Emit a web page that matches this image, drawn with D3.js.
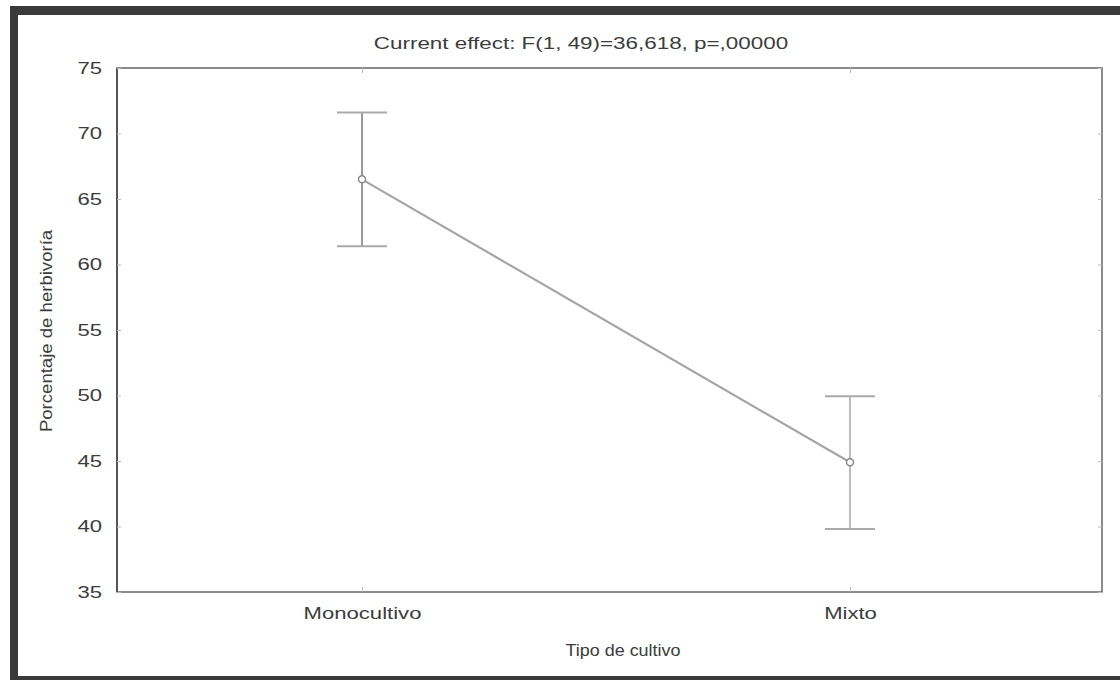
<!DOCTYPE html>
<html><head><meta charset="utf-8">
<script src="https://cdn.jsdelivr.net/npm/d3@7/dist/d3.min.js"></script>
<style>body{margin:0;background:#fff;}svg{display:block;}</style>
</head><body>
<svg id="c" width="1120" height="680"></svg>
<script>
const categories = ["Monocultivo", "Mixto"];
const means = [66.5, 44.9];
const upper = [71.6, 49.95];
const lower = [61.4, 39.8];
const yTicks = [35, 40, 45, 50, 55, 60, 65, 70, 75];
const titleText = "Current effect: F(1, 49)=36,618, p=,00000";
const xTitle = "Tipo de cultivo";
const yTitle = "Porcentaje de herbivoría";

const svg = d3.select("#c");
const font = "'Liberation Sans', Arial, sans-serif";
const m = {left:117, top:68, right:1102, bottom:592};

function stretch(sel, f){
  sel.each(function(){
    const w = this.getComputedTextLength();
    d3.select(this).attr("textLength", w*f).attr("lengthAdjust","spacingAndGlyphs");
  });
}

// outer dark frame
svg.append("rect").attr("x",10).attr("y",6).attr("width",1110).attr("height",9).attr("fill","#3a3a3a");
svg.append("rect").attr("x",10).attr("y",6).attr("width",8).attr("height",674).attr("fill","#3a3a3a");
svg.append("rect").attr("x",10).attr("y",676).attr("width",1110).attr("height",4).attr("fill","#3a3a3a");

const x = d3.scalePoint().domain(categories).range([m.left+1, m.right-8]).padding(0.5);
const y = d3.scaleLinear().domain([35, 75]).range([m.bottom, m.top]);

// plot frame
svg.append("rect").attr("x",m.left).attr("y",m.top).attr("width",m.right-m.left).attr("height",m.bottom-m.top)
  .attr("fill","none").attr("stroke","#666").attr("stroke-width",1.5);
svg.append("line").attr("x1",m.left).attr("x2",m.left).attr("y1",m.top).attr("y2",m.bottom)
  .attr("stroke","#555").attr("stroke-width",2);

// axes (ticks inward, faint)
const yAxis = d3.axisLeft(y).tickValues(yTicks).tickSize(-4).tickPadding(15);
const gy = svg.append("g").attr("transform",`translate(${m.left},0)`).call(yAxis);
gy.select(".domain").remove();
gy.selectAll("line").attr("stroke","#bbb");
gy.selectAll("text").attr("font-family",font).attr("font-size",17).attr("fill","#3c3c3c");
stretch(gy.selectAll("text"), 1.3);

const gyr = svg.append("g").attr("transform",`translate(${m.right},0)`).call(d3.axisRight(y).tickValues(yTicks).tickSize(-4).tickFormat(""));
gyr.select(".domain").remove();
gyr.selectAll("line").attr("stroke","#bbb");

const xAxis = d3.axisBottom(x).tickSize(-5).tickPadding(16);
const gx = svg.append("g").attr("transform",`translate(0,${m.bottom})`).call(xAxis);
gx.select(".domain").remove();
gx.selectAll("line").attr("stroke","#bbb");
gx.selectAll("text").attr("font-family",font).attr("font-size",16).attr("fill","#3c3c3c");
stretch(gx.selectAll("text"), 1.38);

const gxt = svg.append("g").attr("transform",`translate(0,${m.top})`).call(d3.axisTop(x).tickSize(-5).tickFormat(""));
gxt.select(".domain").remove();
gxt.selectAll("line").attr("stroke","#bbb");

// line
const pts = categories.map((c,i)=>({c, m:means[i], u:upper[i], l:lower[i], i}));
svg.append("path").datum(pts)
  .attr("d", d3.line().x(d=>x(d.c)).y(d=>y(d.m)))
  .attr("fill","none").attr("stroke","#a5a5a5").attr("stroke-width",2.2);

// error bars
const eb = svg.append("g").selectAll("g").data(pts).join("g");
eb.append("line").attr("x1",d=>x(d.c)).attr("x2",d=>x(d.c)).attr("y1",d=>y(d.u)).attr("y2",d=>y(d.l))
  .attr("stroke","#999").attr("stroke-width",d=>d.i===0?2:1.3);
eb.append("line").attr("x1",d=>x(d.c)-25).attr("x2",d=>x(d.c)+25).attr("y1",d=>y(d.u)).attr("y2",d=>y(d.u))
  .attr("stroke","#aaa").attr("stroke-width",2);
eb.append("line").attr("x1",d=>x(d.c)-25).attr("x2",d=>x(d.c)+25).attr("y1",d=>y(d.l)).attr("y2",d=>y(d.l))
  .attr("stroke","#aaa").attr("stroke-width",2);
eb.append("circle").attr("cx",d=>x(d.c)).attr("cy",d=>y(d.m)).attr("r",3.5)
  .attr("fill","#fff").attr("stroke","#888").attr("stroke-width",1.5);

// titles
const t1 = svg.append("text").attr("x",581).attr("y",49).attr("text-anchor","middle")
  .attr("font-family",font).attr("font-size",16).attr("fill","#3c3c3c").text(titleText);
stretch(t1, 1.4);
const t2 = svg.append("text").attr("x",623).attr("y",656).attr("text-anchor","middle")
  .attr("font-family",font).attr("font-size",16).attr("fill","#3c3c3c").text(xTitle);
stretch(t2, 1.12);
const t3 = svg.append("text").attr("transform","translate(52,331) rotate(-90)").attr("text-anchor","middle")
  .attr("font-family",font).attr("font-size",16).attr("fill","#3c3c3c").text(yTitle);
stretch(t3, 1.16);
</script>
</body></html>
